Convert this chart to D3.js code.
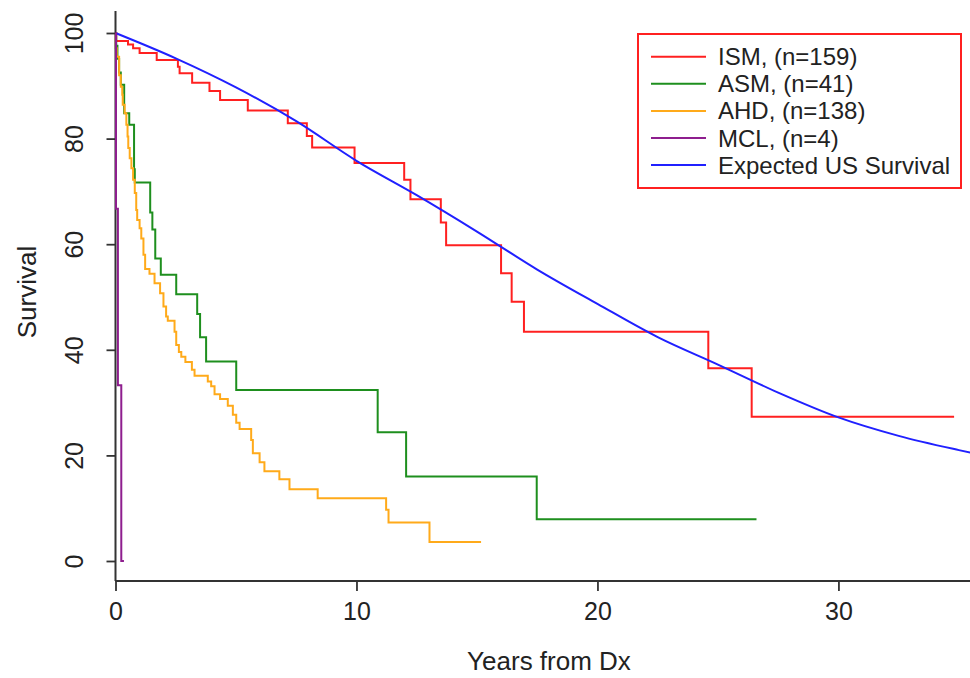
<!DOCTYPE html>
<html>
<head>
<meta charset="utf-8">
<script src="https://cdn.jsdelivr.net/npm/d3@7"></script>
<style>
  body { margin: 0; background: #fff; }
  svg { display: block; font-family: "Liberation Sans", Arial, sans-serif; }
</style>
</head>
<body>
<div id="chart"></div>
<script>
// values (years, survival %)
var ismTime = [0, 0.03, 0.52, 0.73, 1.0, 1.71, 2.59, 2.66, 3.18, 3.90, 4.34, 5.49, 7.15, 7.94, 8.16, 9.92, 11.98, 12.24, 13.5, 13.72, 16.0, 16.44, 16.95, 24.6, 26.4, 34.8];
var ismSurv = [100, 98.5, 97.8, 97.1, 96.2, 94.9, 93.6, 92.4, 90.6, 89.0, 87.3, 85.3, 82.9, 80.5, 78.3, 75.4, 72.2, 68.5, 64.1, 59.8, 54.5, 49.1, 43.4, 36.5, 27.3, 27.3];

var asmTime = [0, 0.03, 0.08, 0.15, 0.22, 0.36, 0.57, 0.77, 0.8, 1.44, 1.53, 1.65, 1.88, 2.52, 3.39, 3.51, 3.76, 5.01, 10.88, 12.06, 17.48, 26.6];
var asmSurv = [100, 97.6, 95.1, 92.5, 90.2, 84.8, 82.6, 74.2, 71.7, 66.0, 62.8, 57.3, 54.2, 50.5, 46.8, 42.4, 37.8, 32.4, 24.4, 16.0, 7.9, 7.9];

var ahdTime = [0, 0.01, 0.05, 0.15, 0.22, 0.28, 0.3, 0.38, 0.45, 0.5, 0.53, 0.59, 0.66, 0.73, 0.8, 0.86, 0.9, 1.0, 1.07, 1.16, 1.23, 1.41, 1.62, 1.85, 1.99, 2.10, 2.17, 2.45, 2.52, 2.63, 2.73, 2.90, 3.17, 3.28, 3.83, 3.97, 4.11, 4.34, 4.66, 4.87, 5.01, 5.15, 5.63, 5.70, 5.98, 6.18, 6.80, 7.22, 8.39, 11.23, 11.33, 13.03, 15.17];
var ahdSurv = [100, 97.1, 95.5, 92.0, 89.8, 88.3, 86.4, 84.8, 82.6, 80.4, 78.2, 76.3, 74.4, 72.2, 69.7, 66.5, 64.6, 63.0, 61.1, 58.0, 55.3, 54.4, 52.6, 50.7, 48.2, 46.3, 45.5, 43.4, 40.9, 39.6, 38.7, 37.7, 36.2, 35.1, 34.0, 33.1, 31.6, 30.7, 29.4, 27.7, 26.2, 25.0, 22.9, 20.4, 18.7, 17.0, 15.5, 13.6, 11.9, 9.7, 7.3, 3.6, 3.6];

var mclTime = [0, 0.02, 0.1, 0.24, 0.35];
var mclSurv = [100, 66.7, 33.3, 0, 0];

var expTime = [0, 2.5, 5, 7.5, 10, 12.5, 15, 17.5, 20, 22.5, 25, 27.5, 30, 32.5, 35, 35.5];
var expSurv = [100, 95.2, 89.7, 83.3, 75.8, 69.3, 62.4, 55.2, 48.7, 42.4, 37.2, 31.9, 27.2, 23.7, 21.0, 20.5];

var xTicks = [0, 10, 20, 30];
var yTicks = [0, 20, 40, 60, 80, 100];
var legendLabels = ["ISM, (n=159)", "ASM, (n=41)", "AHD, (n=138)", "MCL, (n=4)", "Expected US Survival"];
var colors = ["#ff2020", "#1e8f1e", "#ffaa1a", "#8e1e8e", "#2020ff"];

var w = 970;
var h = 678;

var svg = d3
  .select("#chart")
  .append("svg")
  .attr("width", w)
  .attr("height", h);

var xScale = d3.scaleLinear().domain([0, 35.46]).range([115.5, 970]);
var yScale = d3.scaleLinear().domain([0, 100]).range([561, 33]);

// curves
function zip(t, s) {
  return t.map(function(d, i) {
    return [d, s[i]];
  });
}
var step = d3
  .line()
  .x(function(d) { return xScale(d[0]); })
  .y(function(d) { return yScale(d[1]); })
  .curve(d3.curveStepAfter);
var smooth = d3
  .line()
  .x(function(d) { return xScale(d[0]); })
  .y(function(d) { return yScale(d[1]); })
  .curve(d3.curveMonotoneX);

var series = [
  zip(ismTime, ismSurv),
  zip(asmTime, asmSurv),
  zip(ahdTime, ahdSurv),
  zip(mclTime, mclSurv)
];
// order of drawing: red under others like the original
[0, 1, 2].forEach(function(k) {
  svg
    .append("path")
    .attr("d", step(series[k]))
    .attr("fill", "none")
    .attr("stroke", colors[k])
    .attr("stroke-width", 2);
});
svg
  .append("path")
  .attr("d", smooth(zip(expTime, expSurv)))
  .attr("fill", "none")
  .attr("stroke", colors[4])
  .attr("stroke-width", 2);

// axes
var yAxis = d3.axisLeft(yScale).tickValues(yTicks).tickSize(9).tickSizeOuter(0);
var gy = svg
  .append("g")
  .attr("transform", "translate(115.5,0)")
  .call(yAxis);
gy.select(".domain").remove();
gy.selectAll("line").attr("stroke", "#333").attr("stroke-width", 1.8);
gy.selectAll("text")
  .attr("x", 0)
  .attr("dy", 0)
  .attr("transform", "translate(-33,0) rotate(-90)")
  .attr("text-anchor", "middle")
  .attr("font-size", "25px")
  .attr("font-family", "Liberation Sans, Arial, sans-serif")
  .attr("fill", "#222");

var xAxis = d3.axisBottom(xScale).tickValues(xTicks).tickSize(10).tickSizeOuter(0);
var gx = svg
  .append("g")
  .attr("transform", "translate(0,581)")
  .call(xAxis);
gx.select(".domain").remove();
gx.selectAll("line").attr("stroke", "#333").attr("stroke-width", 1.8);
gx.selectAll("text")
  .attr("y", 39)
  .attr("dy", 0)
  .attr("font-size", "25px")
  .attr("font-family", "Liberation Sans, Arial, sans-serif")
  .attr("fill", "#222");

svg
  .append("line")
  .attr("x1", 115.5)
  .attr("y1", 11)
  .attr("x2", 115.5)
  .attr("y2", 581)
  .attr("stroke", "#333")
  .attr("stroke-width", 2);
svg
  .append("line")
  .attr("x1", 115.5)
  .attr("y1", 581)
  .attr("x2", 970)
  .attr("y2", 581)
  .attr("stroke", "#333")
  .attr("stroke-width", 2);

// MCL drawn on top of axis line
svg
  .append("path")
  .attr("d", step(series[3]))
  .attr("fill", "none")
  .attr("stroke", colors[3])
  .attr("stroke-width", 2);

// axis titles
svg
  .append("text")
  .text("Years from Dx")
  .attr("x", 549)
  .attr("y", 670)
  .attr("text-anchor", "middle")
  .attr("font-size", "26px")
  .attr("fill", "#222");

svg
  .append("text")
  .text("Survival")
  .attr("transform", "translate(36,292) rotate(-90)")
  .attr("text-anchor", "middle")
  .attr("font-size", "26px")
  .attr("fill", "#222");

// legend
svg
  .append("rect")
  .attr("x", 638)
  .attr("y", 34)
  .attr("width", 323)
  .attr("height", 154)
  .attr("fill", "#fff")
  .attr("stroke", "#ff2020")
  .attr("stroke-width", 2);

for (var k = 0; k < legendLabels.length; k++) {
  var ly = 56.7 + k * 27.1;
  svg
    .append("line")
    .attr("x1", 651)
    .attr("y1", ly)
    .attr("x2", 706)
    .attr("y2", ly)
    .attr("stroke", colors[k])
    .attr("stroke-width", 2);
  svg
    .append("text")
    .text(legendLabels[k])
    .attr("x", 718)
    .attr("y", ly + 8.5)
    .attr("font-size", "24px")
    .attr("fill", "#222");
}
</script>
</body>
</html>
